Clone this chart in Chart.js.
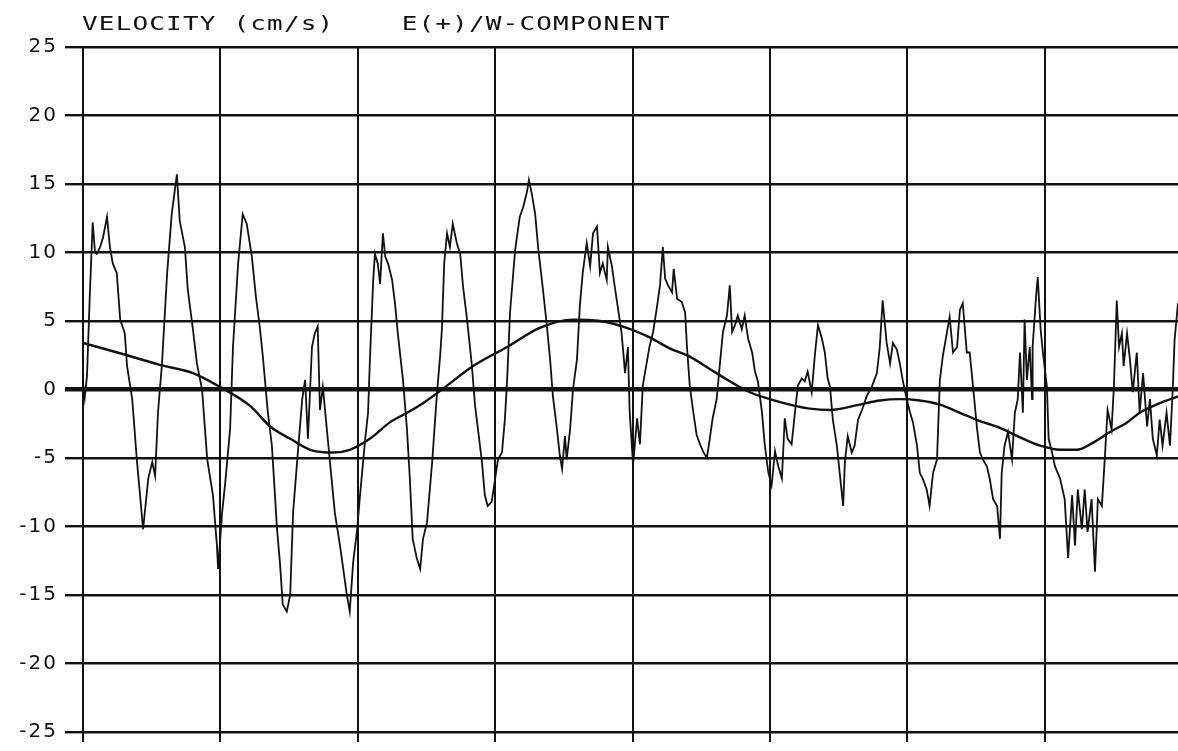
<!DOCTYPE html>
<html>
<head>
<meta charset="utf-8">
<title>Velocity E/W component</title>
<script src="https://cdn.jsdelivr.net/npm/chart.js@4/dist/chart.umd.min.js"></script>
<style>
  html, body { margin: 0; padding: 0; background: #fff; overflow: hidden; }
  #wrap { position: relative; width: 1178px; height: 751px; }
</style>
</head>
<body>
<div id="wrap"><canvas id="chart"></canvas></div>
<script>
// Header text printed above the plot
const headerText = "VELOCITY (cm/s)    E(+)/W-COMPONENT";

// Hourly-scale record: time since start (hours) and E(+)/W velocity (cm/s)
const hours = [
  0.0, 0.3, 0.7, 1.2, 1.7, 2.1, 2.4, 3.0, 3.5, 4.2, 4.7, 5.2, 5.9, 6.5, 7.3, 7.7, 8.6, 9.4, 10.5, 11.4,
  12.1, 12.6, 13.1, 13.8, 14.7, 15.5, 16.4, 16.9, 17.8, 18.3, 19.2, 19.9, 20.8, 21.7, 22.7, 23.4, 23.6, 24.3, 24.8, 25.7,
  26.2, 27.1, 27.9, 28.6, 29.5, 30.2, 30.9, 31.4, 32.3, 33.0, 33.9, 34.4, 34.9, 35.6, 36.2, 36.7, 37.4, 38.3, 38.8, 39.3,
  40.0, 40.5, 41.0, 41.4, 41.9, 42.6, 43.1, 44.0, 44.9, 46.1, 46.6, 47.2, 47.9, 48.4, 49.3, 49.8, 50.1, 50.7, 51.0, 51.5,
  51.9, 52.4, 52.8, 53.3, 54.0, 54.5, 55.0, 55.9, 56.6, 57.1, 57.6, 58.3, 58.9, 59.4, 60.1, 61.0, 61.8, 62.4, 62.7, 63.1,
  63.6, 64.1, 64.6, 65.3, 65.9, 66.4, 67.1, 67.9, 68.5, 69.0, 69.7, 70.2, 70.7, 71.4, 72.0, 72.5, 73.2, 73.7, 74.1, 74.6,
  75.5, 76.3, 76.9, 77.6, 77.9, 78.4, 79.0, 79.5, 80.3, 81.0, 81.6, 82.1, 82.8, 83.3, 83.7, 84.2, 84.5, 85.1, 85.6, 86.3,
  86.8, 87.3, 88.0, 88.6, 89.1, 89.8, 90.3, 90.8, 91.5, 91.7, 92.4, 92.9, 93.4, 94.1, 94.7, 95.2, 95.5, 96.1, 96.8, 97.3,
  97.8, 98.5, 99.0, 99.6, 100.3, 100.8, 101.3, 101.7, 102.2, 102.9, 103.2, 103.8, 104.6, 105.2, 105.5, 106.0, 106.6, 107.2, 107.8, 108.3,
  109.0, 109.5, 110.0, 110.7, 111.3, 111.8, 112.5, 113.0, 113.4, 113.9, 114.4, 115.1, 115.6, 116.2, 116.9, 117.4, 117.9, 118.6, 119.1, 119.7,
  120.3, 120.9, 121.4, 122.1, 122.6, 123.1, 123.8, 124.4, 124.9, 125.6, 126.1, 126.6, 127.3, 127.9, 128.4, 129.1, 129.6, 130.1, 130.5, 131.0,
  131.7, 132.2, 132.8, 133.1, 133.6, 134.3, 134.8, 135.4, 136.1, 136.9, 137.8, 138.7, 139.2, 139.7, 140.4, 141.0, 141.5, 142.2, 142.7, 143.2,
  143.9, 144.5, 145.0, 145.7, 146.2, 146.7, 147.4, 147.9, 148.5, 149.2, 149.7, 150.2, 150.9, 151.4, 152.0, 152.7, 153.2, 153.7, 154.4, 154.9,
  155.5, 156.2, 156.7, 157.2, 157.9, 158.4, 159.0, 159.7, 160.2, 160.5, 161.0, 161.6, 162.3, 162.8, 163.3, 163.7, 164.2, 164.5, 164.9, 165.4,
  165.8, 165.9, 166.5, 166.8, 167.3, 167.7, 168.4, 168.7, 169.3, 169.8, 170.7, 171.5, 172.1, 172.8, 173.3, 173.8, 174.5, 175.0, 175.5, 176.2,
  176.8, 177.3, 178.0, 178.5, 179.0, 179.7, 180.1, 180.6, 181.0, 181.5, 181.8, 182.4, 182.9, 183.4, 184.1, 184.6, 185.2, 185.9, 186.4, 186.9,
  187.6, 188.1, 188.6, 189.3, 189.9, 190.4, 190.7, 191.3
];
const velocity = [
  0.5, -0.6, 1.0, 7.0, 12.2, 10.0, 9.9, 10.4, 11.1, 12.6, 10.4, 9.2, 8.5, 5.1, 4.1, 1.7, -0.7, -5.1, -10.2, -6.5,
  -5.3, -6.3, -1.7, 1.9, 8.5, 12.8, 15.7, 12.3, 10.4, 7.3, 4.4, 1.9, 0.0, -5.1, -7.7, -11.4, -13.1, -9.0, -7.0, -2.9,
  3.1, 9.2, 12.8, 12.1, 9.7, 6.8, 4.5, 2.5, -1.7, -4.1, -10.2, -12.6, -15.7, -16.2, -15.0, -9.0, -5.3, -0.7, 0.7, -3.6,
  3.1, 4.1, 4.6, -1.5, 0.2, -2.9, -5.1, -9.0, -11.4, -15.0, -16.2, -12.6, -10.2, -7.7, -3.6, -1.7, 1.9, 8.0, 9.9, 9.2,
  7.7, 11.4, 9.7, 9.2, 8.0, 6.3, 4.1, 0.7, -2.9, -6.5, -10.9, -12.3, -13.1, -10.9, -9.7, -5.3, -0.5, 2.5, 4.4, 9.2,
  11.4, 10.4, 12.1, 10.7, 9.9, 7.5, 5.1, 1.9, -1.2, -2.9, -5.3, -7.7, -8.5, -8.2, -6.5, -5.1, -4.6, -2.2, 0.7, 5.6,
  10.2, 12.6, 13.3, 14.5, 15.3, 14.3, 12.8, 10.4, 7.5, 4.8, 2.2, -0.5, -2.9, -4.8, -5.8, -3.4, -5.1, -2.9, 0.0, 2.2,
  6.1, 8.5, 10.7, 9.0, 11.4, 11.9, 8.5, 9.2, 8.0, 10.4, 9.0, 7.5, 6.1, 4.1, 1.2, 3.1, -1.6, -5.5, -2.1, -4.0,
  0.3, 2.0, 3.2, 4.2, 6.1, 7.6, 10.4, 8.1, 7.6, 7.1, 8.8, 6.6, 6.4, 5.6, 3.2, 0.3, -1.6, -3.3, -4.0, -4.5,
  -5.0, -3.6, -2.1, -0.7, 2.0, 4.2, 5.4, 7.6, 4.2, 4.7, 5.4, 4.4, 5.4, 3.7, 2.7, 1.3, 0.6, -1.6, -4.0, -6.0,
  -7.0, -4.5, -5.5, -6.5, -2.1, -3.6, -4.0, -1.6, 0.3, 0.8, 0.6, 1.3, -0.2, 2.7, 4.7, 3.7, 2.7, 0.8, 0.2, -2.2,
  -4.1, -6.1, -8.5, -5.3, -3.4, -4.6, -4.1, -2.2, -1.5, -0.5, 0.2, 1.2, 3.1, 6.5, 3.4, 1.9, 3.4, 2.9, 1.9, 0.7,
  -0.7, -1.7, -2.4, -4.1, -6.1, -6.5, -7.3, -8.5, -6.1, -5.1, 0.7, 2.4, 4.1, 5.3, 2.7, 3.1, 5.8, 6.3, 2.7, 2.7,
  0.2, -2.9, -4.6, -5.1, -5.6, -6.5, -8.0, -8.5, -10.9, -6.1, -4.1, -3.1, -5.1, -1.7, -0.7, 2.7, -1.7, 5.1, 0.7, 3.1,
  -0.7, 3.1, 6.8, 8.2, 4.4, 2.7, 0.2, -3.6, -4.6, -5.6, -6.5, -8.0, -12.3, -7.7, -11.4, -7.3, -10.2, -7.3, -10.4, -8.0,
  -13.3, -8.0, -8.5, -5.1, -1.5, -2.9, 0.2, 6.5, 3.1, 4.1, 1.7, 4.1, 2.2, -0.2, 2.7, -1.7, 1.2, -2.7, -0.7, -3.6,
  -4.8, -2.2, -4.1, -1.7, -4.1, 0.2, 3.6, 6.3
];

// Low-pass (subtidal) velocity
const trendHours = [
  0.0, 7.7, 13.4, 19.2, 23.9, 29.2, 32.7, 36.2, 39.7, 43.7, 46.6, 50.1, 53.6, 56.6, 59.4, 62.4, 68.1, 74.1, 79.8, 85.6,
  90.3, 95.0, 99.0, 102.5, 106.0, 109.5, 113.0, 116.5, 120.0, 123.5, 127.0, 130.5, 135.7, 139.2, 142.7, 146.2, 149.7, 153.2, 156.7, 160.2,
  163.7, 167.2, 170.7, 173.6, 176.4, 179.4, 182.4, 184.6, 188.1, 191.3
];
const trendVelocity = [
  3.4, 2.5, 1.8, 1.2, 0.2, -1.2, -2.7, -3.6, -4.4, -4.6, -4.4, -3.6, -2.4, -1.7, -1.0, -0.1, 1.7, 3.1, 4.5, 5.1,
  5.0, 4.5, 3.8, 3.0, 2.4, 1.5, 0.6, -0.2, -0.7, -1.1, -1.4, -1.5, -1.1, -0.8, -0.7, -0.8, -1.1, -1.7, -2.3, -2.8,
  -3.5, -4.1, -4.4, -4.4, -3.9, -3.1, -2.4, -1.7, -1.0, -0.5
];

// Axis ticks
const velocityTicks = [-25, -20, -15, -10, -5, 0, 5, 10, 15, 20, 25];
const dayTicks = [0, 24, 48, 72, 96, 120, 144, 168];
const timeEnd = 191.3;

const ink = '#111';

// Plotter-style wide lettering for tick labels and the header
const plotterLettering = {
  id: 'plotterLettering',
  beforeLayout(chart) { chart.ctx.letterSpacing = '2px'; },
  beforeDraw(chart) { chart.ctx.letterSpacing = '2px'; },
  afterDraw(chart) {
    const { ctx, chartArea } = chart;
    const stretch = 1.3;
    ctx.save();
    ctx.letterSpacing = '0.9px';
    ctx.font = '20px "DejaVu Sans Mono"';
    ctx.fillStyle = ink;
    ctx.textAlign = 'left';
    ctx.textBaseline = 'alphabetic';
    ctx.scale(stretch, 1);
    ctx.fillText(headerText, (chartArea.left - 1) / stretch, chartArea.top - 17);
    ctx.restore();
  }
};

new Chart(document.getElementById('chart'), {
  type: 'line',
  data: {
    datasets: [
      {
        label: 'velocity',
        data: hours.map((h, i) => ({ x: h, y: velocity[i] })),
        borderColor: ink,
        borderWidth: 1.8,
        pointRadius: 0,
        tension: 0
      },
      {
        label: 'low-pass',
        data: trendHours.map((h, i) => ({ x: h, y: trendVelocity[i] })),
        borderColor: ink,
        borderWidth: 2.4,
        pointRadius: 0,
        cubicInterpolationMode: 'monotone'
      }
    ]
  },
  options: {
    responsive: true,
    maintainAspectRatio: false,
    animation: false,
    layout: { padding: { top: 47, right: 0, bottom: 0, left: 0 } },
    plugins: {
      legend: { display: false },
      tooltip: { enabled: false }
    },
    scales: {
      x: {
        type: 'linear',
        min: 0,
        max: timeEnd,
        afterBuildTicks(scale) { scale.ticks = dayTicks.map(v => ({ value: v })); },
        ticks: { display: false, includeBounds: false },
        border: { display: false },
        grid: { color: ink, lineWidth: 2, drawTicks: true, tickLength: 10 }
      },
      y: {
        min: -25,
        max: 25,
        afterBuildTicks(scale) { scale.ticks = velocityTicks.map(v => ({ value: v })); },
        afterFit(scale) { scale.width = 83; },
        ticks: {
          color: ink,
          padding: 7,
          font: { family: '"DejaVu Sans"', size: 20 },
          callback: v => String(v)
        },
        border: { display: false },
        grid: {
          color: ink,
          lineWidth: c => (c.tick && c.tick.value === 0 ? 4.5 : 2.4),
          drawTicks: true,
          tickLength: 18
        }
      }
    }
  },
  plugins: [plotterLettering]
});
</script>
</body>
</html>
